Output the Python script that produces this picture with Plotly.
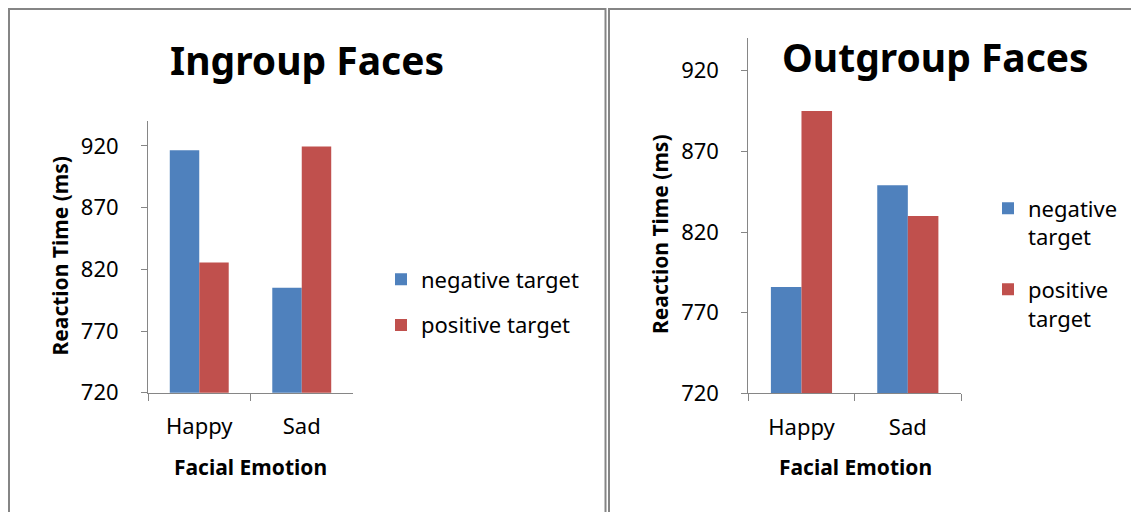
import plotly.graph_objects as go

W, H_REF = 1131, 512
H_FIG = 527

categories = ["Happy", "Sad"]
series_names = ["negative target", "positive target"]
ingroup_negative = [916.5, 805]
ingroup_positive = [825.5, 919.5]
outgroup_negative = [786, 849]
outgroup_positive = [895, 830]
y_ticks = [720, 770, 820, 870, 920]
y_range = [720, 940]

BLUE = "#4F81BD"
RED = "#C0504D"
AXIS = "#868686"
FONT = "Noto Sans"

def px(x):
    return x / W

def py(y):
    return 1 - y / H_REF

fig = go.Figure()

fig.add_trace(go.Bar(x=categories, y=ingroup_negative, name=series_names[0],
                     marker=dict(color=BLUE, line=dict(width=0)),
                     xaxis="x", yaxis="y", legend="legend", legendgroup="a"))
fig.add_trace(go.Bar(x=categories, y=ingroup_positive, name=series_names[1],
                     marker=dict(color=RED, line=dict(width=0)),
                     xaxis="x", yaxis="y", legend="legend", legendgroup="b"))
fig.add_trace(go.Bar(x=categories, y=outgroup_negative, name="negative<br>target",
                     marker=dict(color=BLUE, line=dict(width=0)),
                     xaxis="x2", yaxis="y2", legend="legend2", legendgroup="c"))
fig.add_trace(go.Bar(x=categories, y=outgroup_positive, name="positive<br>target",
                     marker=dict(color=RED, line=dict(width=0)),
                     xaxis="x2", yaxis="y2", legend="legend2", legendgroup="d"))

tickfont = dict(family=FONT, size=22, color="#000000")

xcommon = dict(type="category", showline=True, linecolor=AXIS, linewidth=1,
               ticks="outside", tickson="boundaries", ticklen=7, tickcolor=AXIS,
               showgrid=False, zeroline=False, tickfont=tickfont,
               ticklabelstandoff=14, fixedrange=True)
ycommon = dict(range=y_range, tickvals=y_ticks, showline=True, linecolor=AXIS,
               linewidth=1, ticks="outside", ticklen=6, tickcolor=AXIS,
               showgrid=False, zeroline=False, tickfont=tickfont,
               ticklabelstandoff=18, fixedrange=True)

fig.update_layout(
    width=W, height=H_FIG,
    margin=dict(l=0, r=0, t=0, b=0),
    paper_bgcolor="white", plot_bgcolor="white",
    barmode="group", bargap=0.425, bargroupgap=0,
    xaxis=dict(domain=[px(148), px(353)], anchor="y", **xcommon),
    yaxis=dict(domain=[py(392), py(121)], anchor="x", **ycommon),
    xaxis2=dict(domain=[px(748.3), px(961)], anchor="y2", **xcommon),
    yaxis2=dict(domain=[py(392.7), py(38.3)], anchor="x2", **ycommon),
    legend=dict(x=px(381), y=py(258), xanchor="left", yanchor="top",
                font=dict(family=FONT, size=22, color="#000000"),
                bgcolor="rgba(0,0,0,0)", tracegroupgap=14,
                traceorder="grouped", itemwidth=30),
    legend2=dict(x=px(988), y=py(187), xanchor="left", yanchor="top",
                 font=dict(family=FONT, size=22, color="#000000"),
                 bgcolor="rgba(0,0,0,0)", tracegroupgap=21,
                 traceorder="grouped", itemwidth=30, valign="top"),
    showlegend=True,
)

title_font = dict(family=FONT, size=39, color="#000000")
label_font = dict(family=FONT, size=21, color="#000000")
annotations = [
    dict(text="<b>Ingroup Faces</b>", x=px(307), y=py(59), font=title_font),
    dict(text="<b>Outgroup Faces</b>", x=px(935.5), y=py(56), font=title_font),
    dict(text="<b>Reaction Time (ms)</b>", x=px(59), y=py(256), textangle=-90, font=label_font),
    dict(text="<b>Reaction Time (ms)</b>", x=px(660.5), y=py(234), textangle=-90, font=label_font),
    dict(text="<b>Facial Emotion</b>", x=px(250.3), y=py(466), font=label_font),
    dict(text="<b>Facial Emotion</b>", x=px(855), y=py(466), font=label_font),
]
for a in annotations:
    a.update(xref="paper", yref="paper", showarrow=False, xanchor="center", yanchor="middle")
fig.update_layout(annotations=annotations)

BORDER = "#858585"
fig.add_shape(type="rect", xref="paper", yref="paper",
              x0=px(9), x1=px(605.5), y0=-0.2, y1=py(9),
              line=dict(color=BORDER, width=2), fillcolor="rgba(0,0,0,0)", layer="below")
fig.add_shape(type="rect", xref="paper", yref="paper",
              x0=px(609), x1=1.2, y0=-0.2, y1=py(9),
              line=dict(color=BORDER, width=2), fillcolor="rgba(0,0,0,0)", layer="below")

fig.write_html("out.html", config={"displayModeBar": False},
               post_script="document.body.style.margin='0';document.body.style.overflow='hidden';")
